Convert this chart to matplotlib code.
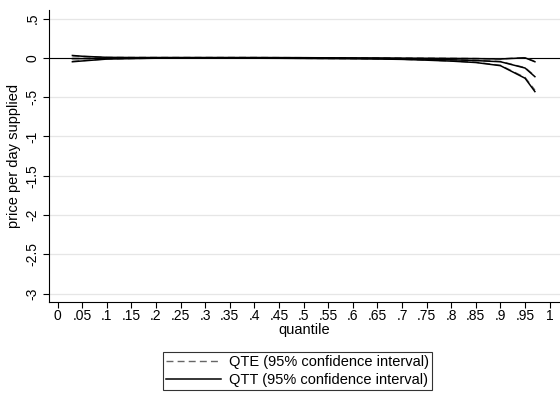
import numpy as np
import matplotlib; matplotlib.use("Agg")
import matplotlib.pyplot as plt
from matplotlib.lines import Line2D

plt.rcParams["font.family"] = ["Liberation Sans", "DejaVu Sans"]

# quantiles and estimates
q = [0.03, 0.05, 0.10, 0.15, 0.20, 0.25, 0.30, 0.35, 0.40, 0.45, 0.50,
     0.55, 0.60, 0.65, 0.70, 0.75, 0.80, 0.85, 0.90, 0.95, 0.97]
qtt_est = [-0.01, -0.01, -0.005, -0.003, 0.0, 0.0, 0.0, 0.0, 0.0, 0.0, -0.002,
           -0.004, -0.006, -0.008, -0.012, -0.018, -0.025, -0.035, -0.05, -0.13, -0.24]
qtt_hi = [0.03, 0.02, 0.006, 0.004, 0.004, 0.004, 0.004, 0.004, 0.004, 0.003, 0.002,
          0.0, -0.001, -0.002, -0.004, -0.006, -0.008, -0.01, -0.015, 0.0, -0.05]
qtt_lo = [-0.05, -0.04, -0.016, -0.01, -0.005, -0.004, -0.004, -0.004, -0.005, -0.006, -0.008,
          -0.01, -0.012, -0.015, -0.02, -0.03, -0.042, -0.06, -0.10, -0.26, -0.43]
qte_est = [-0.008, -0.008, -0.004, -0.002, 0.0, 0.0, 0.0, 0.0, 0.0, 0.0, -0.002,
           -0.003, -0.005, -0.007, -0.011, -0.016, -0.023, -0.032, -0.046, -0.125, -0.23]
qte_hi = [0.025, 0.018, 0.005, 0.004, 0.004, 0.004, 0.004, 0.004, 0.004, 0.003, 0.002,
          0.0, -0.001, -0.002, -0.003, -0.005, -0.007, -0.009, -0.013, 0.003, -0.045]
qte_lo = [-0.045, -0.036, -0.014, -0.009, -0.005, -0.004, -0.004, -0.004, -0.005, -0.006, -0.007,
          -0.009, -0.011, -0.014, -0.019, -0.028, -0.04, -0.056, -0.095, -0.25, -0.41]

xticks = np.round(np.arange(0, 1.0001, 0.05), 2)
yticks = np.round(np.arange(-3, 0.5001, 0.5), 1)

def stata_fmt(v):
    s = f"{v:g}"
    return s if s == "0" else s.replace("0.", ".")

fig = plt.figure(figsize=(5.6, 3.96), dpi=100)
ax = fig.add_axes([0.088, 0.237, 0.912, 0.738])

for y in yticks:
    ax.axhline(y, color="#e6e6e6", lw=0.9, zorder=0)
ax.axhline(0, color="black", lw=0.8, zorder=1)

dash = (0, (5, 3))
for ys in (qte_est, qte_hi, qte_lo):
    ax.plot(q, ys, color="#666666", lw=1.0, ls=dash, zorder=2)
for ys in (qtt_est, qtt_hi, qtt_lo):
    ax.plot(q, ys, color="black", lw=1.1, zorder=3)

ax.set_xlim(-0.017, 1.021)
ax.set_ylim(-3.11, 0.61)
ax.set_xticks(xticks)
ax.set_xticklabels([stata_fmt(v) for v in xticks], fontsize=10)
ax.set_yticks(yticks)
ax.set_yticklabels([stata_fmt(v) for v in yticks], fontsize=10, rotation=90, va="center")
ax.tick_params(direction="out", length=4, width=0.8, color="black", pad=1)
ax.tick_params(axis="y", pad=3)
for s in ("top", "right"):
    ax.spines[s].set_visible(False)
for s in ("left", "bottom"):
    ax.spines[s].set_linewidth(0.8)
ax.set_xlabel("quantile", fontsize=10.5, labelpad=0)
ax.set_ylabel("price per day supplied", fontsize=10.5, labelpad=3)

handles = [Line2D([], [], color="#666666", lw=1.0, ls=dash),
           Line2D([], [], color="black", lw=1.1)]
leg = fig.legend(handles, ["QTE (95% confidence interval)", "QTT (95% confidence interval)"],
                 loc="upper left", bbox_to_anchor=(163 / 560, 1 - 352 / 396),
                 fontsize=10.5, frameon=True, fancybox=False, handlelength=3.8,
                 borderpad=0.2, borderaxespad=0, labelspacing=0.3, handletextpad=0.55)
leg.get_frame().set_edgecolor("black")
leg.get_frame().set_linewidth(0.8)

fig.savefig("out.png", dpi=100, facecolor="white")
